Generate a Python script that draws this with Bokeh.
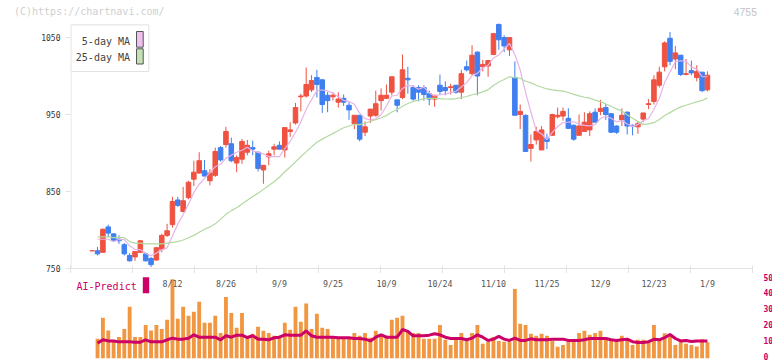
import numpy as np
from bokeh.plotting import figure
from bokeh.layouts import column
from bokeh.models import Range1d, FixedTicker, LinearAxis, Div
from bokeh.core.properties import value
from bokeh.embed import file_html
from bokeh.resources import INLINE

# ---------------- data ----------------
# candles, 1-based index 1..116
opens = [773, 773, 771, 804, 795, 788, 781, 767, 765, 771,
         769, 763, 761, 775, 793, 807, 839, 824, 842, 866,
         874, 877, 864, 871, 907, 911, 912, 887, 892, 901,
         907, 901, 878, 895, 905, 910, 904, 928, 939, 973,
         974, 982, 998, 995, 975, 973, 966, 971, 962, 938,
         949, 927, 948, 949, 968, 971, 979, 969, 972, 997,
         985, 985, 985, 977, 970, 988, 985, 985, 988, 979,
         1012, 1003, 1031, 1012, 1013, 1028, 1067, 1050, 1034, 998,
         950, 949, 906, 917, 904, 919, 923, 947, 948, 945,
         936, 923, 928, 930, 953, 954, 959, 951, 935, 943,
         953, 936, 934, 944, 963, 967, 988, 1012, 1049, 1022,
         1027, 1002, 1007, 998, 1005, 982]
highs = [774, 778, 802, 807, 795, 793, 783, 770, 772, 787,
         771, 765, 778, 795, 808, 843, 843, 856, 864, 890,
         901, 891, 879, 907, 909, 934, 920, 897, 918, 917,
         916, 902, 884, 903, 912, 915, 933, 940, 965, 977,
         1011, 1001, 1008, 996, 979, 979, 979, 976, 966, 949,
         949, 941, 957, 981, 984, 989, 999, 969, 1028, 1012,
         988, 988, 988, 981, 975, 1002, 993, 990, 988, 1008,
         1020, 1040, 1032, 1021, 1020, 1056, 1068, 1053, 1050, 1019,
         963, 950, 924, 934, 935, 925, 951, 959, 959, 958,
         937, 950, 953, 954, 958, 969, 964, 952, 936, 958,
         954, 937, 941, 952, 970, 1001, 1012, 1045, 1057, 1039,
         1027, 1022, 1020, 1014, 1005, 1006]
lows = [773, 767, 771, 791, 785, 782, 767, 759, 760, 770,
        759, 752, 760, 771, 791, 803, 830, 823, 840, 857,
        873, 870, 858, 869, 889, 907, 888, 875, 886, 897,
        897, 876, 860, 884, 897, 905, 894, 921, 937, 954,
        972, 979, 972, 952, 953, 968, 959, 961, 943, 931,
        915, 922, 939, 947, 955, 970, 975, 953, 970, 977,
        968, 967, 968, 962, 960, 975, 975, 976, 977, 970,
        1006, 1001, 975, 1006, 999, 1027, 1034, 1031, 1026, 949,
        931, 902, 889, 911, 904, 905, 922, 945, 942, 931,
        916, 922, 928, 922, 940, 949, 943, 926, 925, 935,
        924, 923, 925, 940, 957, 963, 985, 1006, 1014, 1009,
        1000, 1001, 1001, 993, 979, 980]
closes = [773, 769, 801, 796, 786, 786, 769, 760, 772, 786,
          760, 755, 777, 793, 799, 837, 832, 838, 862, 875,
          890, 870, 874, 902, 891, 928, 890, 894, 915, 910,
          905, 880, 884, 899, 908, 905, 933, 930, 959, 974,
          989, 994, 989, 963, 968, 975, 970, 966, 956, 949,
          918, 934, 957, 964, 975, 975, 999, 962, 1008, 995,
          970, 979, 976, 970, 975, 980, 981, 986, 979, 1003,
          1008, 1027, 1000, 1015, 1020, 1055, 1047, 1039, 1050, 949,
          954, 902, 911, 928, 930, 915, 950, 949, 954, 932,
          918, 935, 940, 951, 940, 958, 950, 927, 927, 949,
          935, 935, 938, 952, 964, 995, 1005, 1043, 1019, 1030,
          1002, 1003, 1004, 1006, 981, 1001]

# moving-average values before enough closes exist
ma5_head = [788, 788, 788]                      # candles 2..4
ma25_head = [791, 791, 791, 790, 790, 790, 785, 783, 783, 782,
             782, 782, 782, 783, 784, 785, 787, 790, 793, 797,
             801, 804, 808]                      # candles 2..24

# volume and AI-Predict, candles 2..116
volume = [12.3, 25.4, 17.5, 11.0, 13.5, 18.5, 32.3, 13.5, 13.5, 21.0,
          17.5, 21.0, 18.5, 24.2, 49.6, 24.8, 32.3, 26.7, 29.2, 35.4,
          22.3, 22.3, 26.7, 16.0, 38.5, 28.5, 19.2, 28.5, 12.9, 15.4,
          19.8, 17.3, 16.0, 14.2, 14.2, 22.3, 17.9, 32.3, 22.9, 34.4,
          18.5, 27.9, 19.2, 18.5, 12.9, 13.5, 13.5, 12.9, 16.0, 14.2,
          16.0, 12.9, 17.3, 14.2, 14.2, 24.2, 25.4, 26.7, 17.3, 16.0,
          16.0, 12.3, 12.3, 12.3, 21.0, 11.7, 8.5, 11.7, 16.0, 11.0,
          16.0, 21.0, 9.2, 10.4, 13.5, 11.0, 10.4, 10.4, 43.5, 21.7,
          21.0, 15.4, 14.2, 15.4, 14.2, 11.0, 7.3, 8.5, 10.4, 10.4,
          16.0, 17.3, 14.8, 16.0, 17.3, 12.9, 11.7, 11.7, 14.2, 11.7,
          8.5, 11.7, 11.7, 11.0, 21.0, 12.3, 15.8, 14.8, 8.5, 11.7,
          9.2, 8.5, 7.5, 12.1, 10.2]
ai_predict = [9.6, 11.7, 11.0, 11.0, 10.4, 10.4, 10.4, 10.2, 10.2, 11.7,
              10.4, 10.4, 10.4, 11.7, 12.7, 12.1, 12.1, 12.7, 14.8, 13.3,
              13.3, 13.3, 13.3, 11.7, 14.2, 13.3, 14.6, 14.6, 13.1, 14.2,
              12.1, 12.1, 11.7, 12.9, 13.3, 14.8, 14.6, 14.6, 14.6, 17.3,
              14.2, 13.3, 13.3, 13.3, 13.3, 12.9, 12.9, 12.9, 12.5, 12.5,
              12.1, 11.0, 13.3, 14.8, 13.3, 13.3, 13.3, 18.1, 17.0, 14.2,
              14.2, 14.2, 14.6, 15.5, 14.8, 13.3, 12.5, 12.5, 12.5, 11.7,
              12.7, 14.8, 13.3, 11.3, 12.1, 13.8, 12.1, 11.3, 12.7, 11.3,
              11.3, 12.3, 11.7, 11.7, 11.7, 12.1, 12.1, 12.1, 11.3, 11.3,
              11.3, 11.7, 12.5, 12.5, 12.5, 12.5, 11.7, 11.3, 11.7, 12.1,
              10.5, 10.0, 10.0, 10.5, 12.0, 11.7, 13.0, 15.0, 12.5, 11.0,
              11.3, 10.6, 11.0, 11.0, 11.0]

date_labels = ["8/12", "8/26", "9/9", "9/25", "10/9", "10/24",
               "11/10", "11/25", "12/9", "12/23", "1/9"]
date_label_idx = [16, 26, 36, 46, 56, 66, 76, 86, 96, 106, 116]
price_ticks = [750, 850, 950, 1050]
vol_ticks = [0, 10, 20, 30, 40, 50]
watermark = "(C)https://chartnavi.com/"
code = "4755"

# ---------------- derived ----------------
N = len(closes)
idx = np.arange(1, N + 1)
o = np.array(opens, float); c = np.array(closes, float)
h = np.array(highs, float); l = np.array(lows, float)

ma5 = np.full(N, np.nan)
ma5[1:4] = ma5_head
for i in range(4, N):
    ma5[i] = c[i - 4:i + 1].mean()
ma25 = np.full(N, np.nan)
ma25[1:24] = ma25_head
for i in range(24, N):
    ma25[i] = c[i - 24:i + 1].mean()

sub_idx = np.arange(2, N + 1)

# ---------------- layout constants (page pixels) ----------------
W = 772
FL, FR = 70.0, 752.0          # frame left/right
PX_PER = 5.35                 # px per candle
X0 = 1 - (91.7 - FL) / PX_PER
X1 = X0 + (FR - FL) / PX_PER
T_H = 20                      # header strip height
A_BOT = 268.0                 # main x-axis line
PPP = 0.77                    # px per price unit
B_TOP, B_BOT = 273.0, 358.0
VPP = 1.6                     # px per volume unit

def ax(px):
    return X0 + (px - FL) / PX_PER

def ay(py):
    return 750 + (A_BOT - py) / PPP

def by(py):
    return (B_BOT - py) / VPP

MONO = value("DejaVu Sans Mono")
UP, DOWN = "#ef5241", "#3f7ff0"
GRID = "#e2e2e2"

xr = Range1d(X0, X1)

# ---------------- header strip (watermark and code) ----------------
header_html = (
    '<div style="position:relative;width:%dpx;height:%dpx;">'
    '<span style="position:absolute;left:14px;top:6px;white-space:nowrap;'
    'font-family:\'DejaVu Sans Mono\';font-size:10px;line-height:12px;'
    'color:#cfcfcf;">%s</span>'
    '<span style="position:absolute;right:15px;top:6px;white-space:nowrap;'
    'font-family:\'Liberation Sans\';font-size:10.5px;line-height:12px;'
    'color:#c4c4c4;">%s</span></div>' % (W, T_H, watermark, code))
t = Div(text=header_html, width=W, height=T_H, margin=(0, 0, 0, 0))

# ---------------- main figure ----------------
p = figure(x_range=xr, y_range=Range1d(750, ay(T_H)),
           frame_width=int(FR - FL), frame_height=int(A_BOT - T_H),
           min_border_left=int(FL), min_border_right=int(W - FR),
           min_border_top=0, min_border_bottom=int(B_TOP - A_BOT),
           output_backend="svg", toolbar_location=None)
p.outline_line_color = None
p.xgrid.visible = False
p.ygrid.visible = False

p.yaxis.ticker = FixedTicker(ticks=price_ticks)
p.yaxis.axis_line_color = None
p.yaxis.major_tick_line_color = GRID
p.yaxis.major_tick_in = 0
p.yaxis.major_tick_out = 5
p.yaxis.minor_tick_line_color = None
p.yaxis.major_label_text_font = "DejaVu Sans Mono"
p.yaxis.major_label_text_font_size = "8px"
p.yaxis.major_label_text_color = "#333333"
p.yaxis.major_label_standoff = 5

p.xaxis.ticker = FixedTicker(ticks=[X0 + k * (X1 - X0) / 11 for k in range(12)])
p.xaxis.axis_line_color = GRID
p.xaxis.major_tick_line_color = GRID
p.xaxis.major_tick_in = 3
p.xaxis.major_tick_out = 5
p.xaxis.minor_tick_line_color = None
p.xaxis.major_label_text_font_size = "0px"
p.xaxis.major_label_text_color = None
p.xaxis.major_label_standoff = 0

# left axis line (starts at the legend box top)
p.segment(x0=[ax(70.5)], y0=[ay(24)], x1=[ax(70.5)], y1=[750],
          line_color=GRID, line_width=1)

up = c >= o
cols = np.where(up, UP, DOWN)
p.segment(x0=idx, y0=l, x1=idx, y1=h, line_color=cols, line_width=1)
p.vbar(x=idx, width=0.85, top=np.maximum(o, c), bottom=np.minimum(o, c),
       fill_color=cols, line_color=cols, line_width=1)

p.line(sub_idx, ma5[1:], line_color="#e8b2e8", line_width=1.2)
p.line(sub_idx, ma25[1:], line_color="#b2d9a0", line_width=1.2)

# legend box
p.quad(left=ax(70.5), right=ax(148.3), top=ay(24.3), bottom=ay(71),
       fill_color="white", line_color=GRID, line_width=1)
p.quad(left=ax(136), right=ax(142.7), top=ay(31), bottom=ay(46.7),
       fill_color="#f0c0f0", line_color="#555555", line_width=1)
p.quad(left=ax(136), right=ax(142.7), top=ay(48.3), bottom=ay(63.5),
       fill_color="#c2e2b4", line_color="#555555", line_width=1)
p.text(x=[ax(129.5), ax(129.5)], y=[ay(40.5), ay(57.2)],
       text=["5-day MA", "25-day MA"], text_font=MONO,
       text_font_size="10px", text_color="#444444",
       text_align="right", text_baseline="middle")

# ---------------- volume figure ----------------
q = figure(x_range=xr, y_range=Range1d(0, by(B_TOP)),
           frame_width=int(FR - FL), frame_height=int(B_BOT - B_TOP),
           min_border_left=int(FL), min_border_right=int(W - FR),
           min_border_top=0, min_border_bottom=361 - int(B_BOT),
           x_axis_location=None, y_axis_location=None,
           output_backend="svg", toolbar_location=None)
q.outline_line_color = None
q.xgrid.visible = False
q.ygrid.visible = False

q.vbar(x=sub_idx, width=0.72, top=volume, bottom=0,
       fill_color="#f19641", line_color=None)
q.line(sub_idx, ai_predict, line_color="#cc0066", line_width=3)

q.text(x=date_label_idx, y=[by(283)] * len(date_labels), text=date_labels,
       text_font=MONO, text_font_size="8.3px", text_color="#555555",
       text_align="center", text_baseline="middle")
q.text(x=[ax(76)], y=[by(286)], text=["AI-Predict"], text_font=MONO,
       text_font_size="10px", text_color="#cc0066",
       text_align="left", text_baseline="middle")
q.quad(left=ax(142.3), right=ax(148.7), top=by(276.7), bottom=by(292.7),
       fill_color="#cc0066", line_color=None)

# right-hand volume labels (set 1 unit higher so the "0" stays on the page)
q.extra_y_ranges = {"lab": Range1d(-1.0, by(B_TOP) - 1.0)}
ra = LinearAxis(y_range_name="lab", ticker=FixedTicker(ticks=vol_ticks))
ra.axis_line_color = None
ra.major_tick_line_color = None
ra.minor_tick_line_color = None
ra.major_label_text_font = "DejaVu Sans Mono"
ra.major_label_text_font_size = "8px"
ra.major_label_text_font_style = "bold"
ra.major_label_text_color = "#cc0066"
ra.major_label_standoff = 5
q.add_layout(ra, "right")

layout = column(t, p, q, spacing=0)
open("out.html", "w").write(file_html(layout, INLINE))
